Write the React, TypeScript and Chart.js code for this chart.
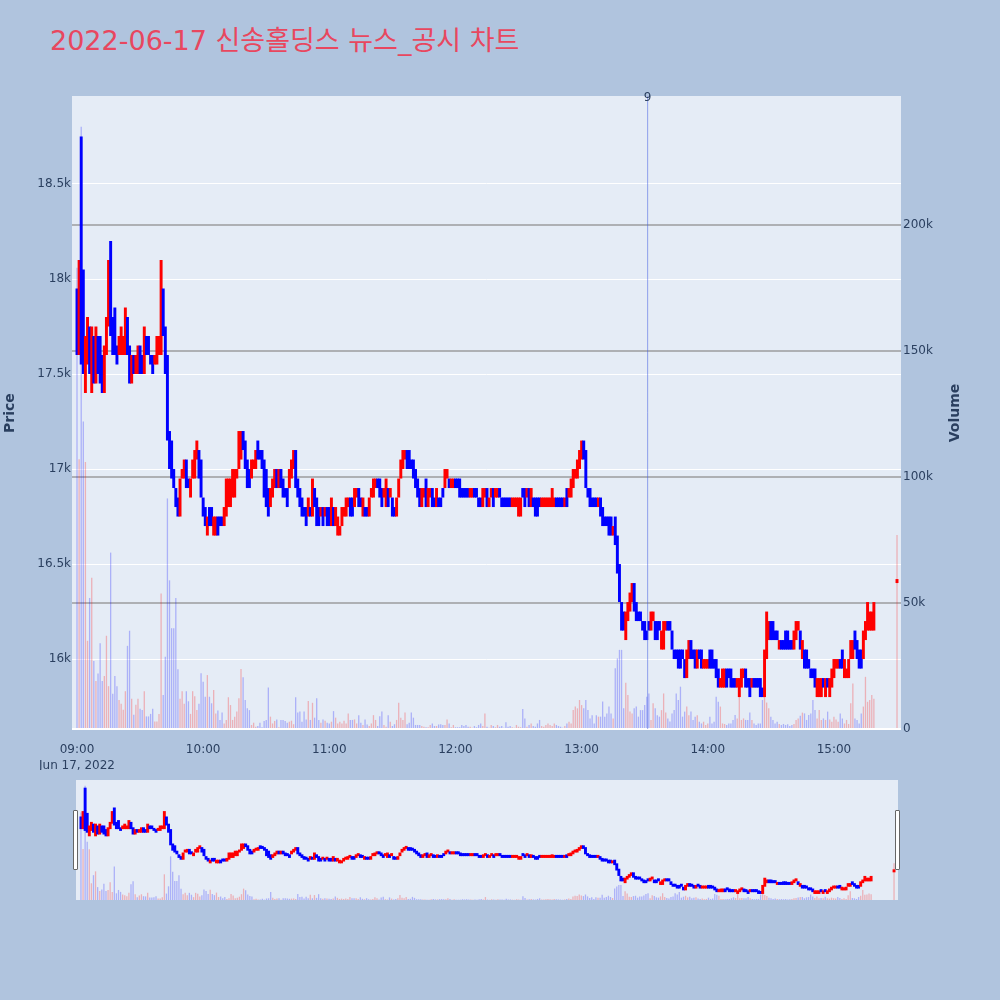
import React, { useEffect, useRef } from "react";
import { Chart, registerables } from "chart.js";

Chart.register(...registerables);

const TITLE = "2022-06-17 신송홀딩스 뉴스_공시 차트";
const SESSION_DATE_LABEL = "Jun 17, 2022";
const timeTickLabels = ["09:00", "10:00", "11:00", "12:00", "13:00", "14:00", "15:00"];
const priceTickValues = [16000, 16500, 17000, 17500, 18000, 18500];
const volumeTickValues = [0, 50000, 100000, 150000, 200000];

// one bar per minute, starting 09:00
const minuteLows = [
  17600,17600,17550,17500,17400,17550,17500,17400,17450,17450,
  17500,17450,17400,17400,17600,17750,17700,17600,17600,17550,
  17600,17600,17600,17600,17600,17450,17450,17500,17500,17500,
  17500,17500,17500,17600,17600,17550,17500,17550,17550,17600,
  17600,17700,17500,17150,17000,16950,16900,16800,16750,16750,
  16950,16950,16900,16900,16850,16950,16950,17050,16950,16850,
  16750,16700,16650,16700,16700,16650,16650,16650,16700,16700,
  16700,16750,16800,16800,16850,16850,16950,17000,17050,17100,
  17000,16900,16900,16950,17000,17000,17050,17050,17000,16850,
  16800,16750,16800,16850,16900,16900,16900,16900,16850,16850,
  16800,16900,16950,17000,16900,16850,16800,16750,16750,16700,
  16750,16750,16750,16800,16700,16700,16750,16700,16750,16700,
  16700,16700,16700,16700,16650,16650,16700,16750,16750,16800,
  16750,16750,16800,16850,16800,16800,16750,16750,16750,16750,
  16850,16850,16900,16900,16850,16800,16850,16800,16800,16850,
  16750,16750,16750,16850,16950,17000,17050,17000,17000,17000,
  16950,16900,16850,16800,16800,16850,16800,16800,16850,16800,
  16800,16800,16800,16800,16850,16900,16950,16900,16900,16900,
  16900,16900,16850,16850,16850,16850,16850,16850,16850,16850,
  16850,16800,16800,16800,16850,16800,16800,16850,16800,16850,
  16850,16850,16800,16800,16800,16800,16800,16800,16800,16800,
  16750,16750,16850,16800,16850,16800,16800,16800,16750,16750,
  16800,16800,16800,16800,16800,16800,16800,16800,16800,16800,
  16800,16800,16800,16800,16850,16850,16900,16950,16950,17000,
  17050,17050,16900,16850,16800,16800,16800,16800,16800,16750,
  16700,16700,16700,16650,16650,16650,16600,16450,16300,16150,
  16150,16100,16200,16250,16300,16250,16200,16200,16200,16150,
  16100,16100,16150,16150,16200,16100,16100,16150,16050,16050,
  16150,16150,16150,16050,16000,16000,15950,15950,16000,15900,
  15900,16000,16000,16000,15950,15950,16000,15950,15950,15950,
  15950,15950,15950,15950,15900,15850,15850,15850,15850,15850,
  15900,15850,15850,15850,15850,15800,15850,15900,15850,15850,
  15800,15850,15850,15850,15850,15800,15800,15800,16000,16100,
  16100,16100,16100,16100,16050,16050,16050,16050,16050,16050,
  16050,16050,16100,16150,16050,16000,15950,15950,15950,15900,
  15900,15850,15800,15800,15800,15850,15800,15850,15800,15850,
  15900,15950,15950,15950,15950,15900,15900,15900,16000,16000,
  16050,16000,15950,15950,16000,16100,16150,16150,16150,16150,
];

const minuteHighs = [
  17950,18100,18750,18050,17700,17800,17750,17750,17700,17750,
  17700,17700,17600,17650,17800,18100,18200,17800,17850,17650,
  17700,17750,17700,17850,17800,17650,17600,17600,17600,17650,
  17650,17600,17750,17700,17700,17600,17600,17600,17700,17700,
  18100,17950,17750,17600,17200,17150,17000,16900,16850,16950,
  17000,17050,17050,16950,16950,17050,17100,17150,17100,17050,
  16850,16800,16750,16800,16800,16750,16750,16750,16750,16750,
  16800,16950,16950,16950,17000,17000,17000,17200,17200,17200,
  17150,17050,17000,17050,17050,17100,17150,17100,17100,17050,
  17000,16900,16900,16950,17000,17000,17000,17000,16950,16900,
  16900,17000,17050,17100,17100,16950,16900,16850,16800,16800,
  16850,16800,16950,16900,16850,16800,16800,16800,16800,16800,
  16800,16850,16800,16800,16750,16700,16800,16800,16850,16850,
  16850,16850,16900,16900,16900,16850,16850,16800,16800,16850,
  16900,16950,16950,16950,16950,16900,16900,16950,16900,16900,
  16850,16800,16850,16950,17050,17100,17100,17100,17100,17050,
  17050,17000,16950,16900,16900,16900,16950,16900,16900,16900,
  16850,16900,16850,16850,16900,17000,17000,16950,16950,16950,
  16950,16950,16950,16900,16900,16900,16900,16900,16900,16900,
  16900,16850,16850,16900,16900,16900,16850,16900,16900,16900,
  16900,16900,16850,16850,16850,16850,16850,16850,16850,16850,
  16850,16850,16900,16900,16900,16900,16900,16850,16850,16850,
  16850,16850,16850,16850,16850,16850,16900,16850,16850,16850,
  16850,16850,16850,16900,16900,16950,17000,17000,17050,17100,
  17150,17150,17100,16900,16900,16850,16850,16850,16850,16850,
  16800,16750,16750,16750,16750,16700,16750,16650,16500,16300,
  16250,16250,16300,16350,16400,16400,16300,16250,16250,16200,
  16200,16150,16200,16250,16250,16200,16200,16200,16150,16200,
  16200,16200,16200,16150,16050,16050,16050,16050,16050,16000,
  16050,16100,16100,16050,16050,16050,16050,16050,16000,16000,
  16000,16050,16050,16000,16000,15950,15900,15950,15950,15950,
  15950,15950,15900,15900,15900,15900,15950,15950,15950,15900,
  15900,15900,15900,15900,15900,15900,15850,16050,16250,16200,
  16200,16200,16150,16150,16100,16100,16100,16150,16150,16100,
  16100,16150,16200,16200,16150,16100,16050,16050,16000,15950,
  15950,15950,15900,15900,15900,15900,15900,15900,15900,15950,
  16000,16000,16000,16000,16050,16000,15950,16000,16100,16100,
  16150,16100,16050,16050,16150,16200,16300,16250,16250,16300,
];

// 1 = rising (red), 0 = falling (blue)
const minuteUp = [
  0,1,0,0,1,1,0,1,0,1, 0,0,0,1,1,1,0,0,0,0, 1,1,1,1,0,0,1,0,1,1, 0,0,1,0,0,0,0,1,1,1,
  1,0,0,0,0,0,0,0,0,1, 1,1,0,0,1,1,1,1,0,0, 0,0,1,0,0,1,1,0,0,0, 1,1,1,1,1,1,1,1,1,0,
  0,0,0,1,1,1,0,0,0,0, 0,0,1,1,1,0,1,0,0,0, 0,1,1,1,0,0,0,0,0,0, 1,0,1,0,0,0,1,0,1,0,
  0,1,0,1,1,1,1,1,1,1, 0,0,1,1,0,0,1,0,0,1, 1,1,1,0,0,0,1,1,0,1, 0,0,1,1,1,1,1,0,0,0,
  0,0,0,0,1,1,0,1,1,0, 0,1,0,0,0,1,1,0,1,1, 0,0,0,0,0,0,0,1,1,0, 0,0,0,1,1,0,1,1,0,1,
  1,0,0,0,0,0,0,1,1,1, 1,1,0,0,1,0,1,0,0,0, 0,1,1,1,1,1,1,1,0,0, 0,0,1,0,1,1,1,1,1,1,
  1,0,0,0,0,0,0,0,1,0, 0,0,0,0,0,1,0,0,0,0, 0,1,1,1,1,0,0,0,0,0, 0,0,0,1,1,0,0,0,1,1,
  1,0,0,0,0,0,0,0,0,0, 1,1,0,0,0,1,0,0,1,1, 1,0,0,0,0,0,1,1,1,0, 0,0,0,0,1,1,1,1,0,0,
  0,1,0,0,0,0,0,1,1,1, 0,0,0,0,1,0,0,0,0,0, 0,1,1,1,0,1,0,0,0,0, 0,0,1,1,1,0,1,0,1,1,
  1,1,1,0,0,1,1,1,1,1, 0,0,0,0,1,1,1,1,1,1,
];

const minuteVolumes = [
  183000,107000,239000,122000,106000,35000,52000,60000,27000,19000,
  22000,34000,19000,21000,37000,17000,70000,14000,21000,17000,
  11500,10000,7600,15000,33000,39000,12000,5700,9600,12000,
  8000,7500,15000,5000,5000,6000,8000,3000,3000,6000,
  53800,13500,28700,91500,59000,40000,40000,52000,23700,12000,
  15000,10000,15000,11000,6000,15000,13000,7500,10000,22100,
  18800,12800,21400,12800,10200,15500,6200,7300,3600,6500,
  2200,3600,12600,9500,3600,4900,6900,12200,23800,20500,
  11500,8200,7500,1600,2500,900,1200,2500,700,3200,
  3600,16500,4900,2200,3200,3800,700,3600,3600,3200,
  2500,2900,3300,1900,12600,6500,6900,2900,6900,3800,
  11100,3600,10400,4500,12200,3600,2500,3800,3300,2500,
  2200,2900,7100,4500,2200,2900,2200,3300,2200,6200,
  3600,3600,3800,2200,5500,2500,1600,3800,1800,1200,
  2200,5500,3600,1200,5100,6900,1600,900,5500,2900,
  1200,1900,3600,10400,4500,3600,6500,1900,2500,6500,
  4500,1600,1600,1600,1200,900,700,700,1600,2200,
  1200,1200,1800,1900,1600,1600,3800,2200,700,1600,
  700,700,700,1600,1200,1600,900,900,500,1200,
  700,1600,2200,1200,6200,900,500,1600,1200,700,
  1600,900,1200,500,2700,900,1200,700,500,1600,
  900,700,7900,4200,900,1600,2200,1200,900,2200,
  3600,1200,900,1600,2200,1600,1200,2200,1600,1200,
  900,500,1200,2200,2900,2200,7500,8900,8200,11500,
  9500,8200,11500,7500,4200,5500,2200,5500,4900,4900,
  10900,4900,6200,8900,6200,4200,24100,28000,31400,31400,
  8200,18400,13500,6900,6200,8200,8900,4900,7500,7500,
  9500,12800,14100,3600,10200,8200,5500,4900,7500,14100,
  6500,4200,3000,6200,7500,14100,11500,16800,4900,6900,
  8900,5500,6900,3600,4900,5500,2900,2200,2900,1600,
  2200,4900,2200,2900,12800,10800,8900,2200,2000,1600,
  2200,2200,3600,5600,4200,12800,3600,4200,3600,3600,
  6500,3600,2200,1600,2200,2200,11500,12800,10500,8200,
  4900,3600,2200,2900,2000,1600,2000,1600,1900,1200,
  1600,2000,3600,4200,5300,6500,6200,3600,5600,6200,
  11500,7500,4200,7500,3600,4200,3600,6900,3800,2900,
  4900,3800,2900,6200,4200,2200,3600,2000,10200,18100,
  4200,3600,2200,6200,8900,20700,10800,11500,13500,12000,
];

const closingAuctionTime = "15:30";
const closingAuctionPrice = 16400;
const closingAuctionVolume = 77000;

const newsTimes = ["13:31:24"];
const newsLabels = ["9"];

const PRICE_MIN = 15632;
const PRICE_MAX = 18963;
const VOLUME_MAX = 251200;
const X_MIN = -2.38;
const X_MAX = 391.9;

const UP_COLOR = "#FF0000";
const DOWN_COLOR = "#0000FF";
const UP_VOL = "rgba(255,0,0,0.25)";
const DOWN_VOL = "rgba(0,0,255,0.25)";
const PLOT_BG = "#E5ECF6";
const PAPER_BG = "#B0C4DE";
const FONT = "'DejaVu Sans', verdana, arial, 'Noto Sans CJK KR', sans-serif";
const TEXT = "#2a3f5f";

function toMinutes(t: string) {
  const p = t.split(":").map(Number);
  return (p[0] - 9) * 60 + p[1] + (p[2] || 0) / 60;
}

function series() {
  const xs = minuteLows.map((_, i) => i);
  xs.push(toMinutes(closingAuctionTime));
  const lows = [...minuteLows, closingAuctionPrice];
  const highs = [...minuteHighs, closingAuctionPrice];
  const ups = [...minuteUp, 1];
  const vols = [...minuteVolumes, closingAuctionVolume];
  return { xs, lows, highs, ups, vols };
}

const plotBg = {
  id: "plotBg",
  beforeDraw(chart: any) {
    const { ctx, chartArea: a } = chart;
    ctx.save();
    ctx.fillStyle = PLOT_BG;
    ctx.fillRect(a.left, a.top, a.right - a.left, a.bottom - a.top);
    ctx.restore();
  },
};

const newsLabelPlugin = {
  id: "newsLabel",
  afterDraw(chart: any) {
    const { ctx, chartArea: a, scales } = chart;
    ctx.save();
    ctx.fillStyle = TEXT;
    ctx.font = `12px ${FONT}`;
    ctx.textAlign = "center";
    ctx.textBaseline = "alphabetic";
    newsTimes.forEach((t, i) => {
      const x = scales.x.getPixelForValue(toMinutes(t));
      ctx.fillText(newsLabels[i], x, a.top + 4.5);
    });
    ctx.restore();
  },
};

function datasets(minBar: number, withNews: boolean) {
  const s = series();
  const ds: any[] = [];
  if (withNews) {
    newsTimes.forEach((t) => {
      ds.push({
        type: "line",
        data: [
          { x: toMinutes(t), y: PRICE_MIN },
          { x: toMinutes(t), y: PRICE_MAX },
        ],
        yAxisID: "y",
        borderColor: "rgba(70,95,225,0.55)",
        borderWidth: 1,
        pointRadius: 0,
        order: 0,
      });
    });
  }
  ds.push({
    type: "bar",
    data: s.xs.map((x, i) => ({ x, y: [s.lows[i], s.highs[i]] })),
    yAxisID: "y",
    backgroundColor: s.ups.map((u) => (u ? UP_COLOR : DOWN_COLOR)),
    grouped: false,
    barPercentage: 1.4,
    categoryPercentage: 1,
    minBarLength: minBar,
    order: 1,
  });
  ds.push({
    type: "bar",
    data: s.xs.map((x, i) => ({ x, y: s.vols[i] })),
    yAxisID: "y2",
    backgroundColor: s.ups.map((u) => (u ? UP_VOL : DOWN_VOL)),
    grouped: false,
    barPercentage: 0.62,
    categoryPercentage: 1,
    order: 2,
  });
  return ds;
}

function mainConfig(): any {
  return {
    type: "bar",
    data: { datasets: datasets(4, true) },
    options: {
      animation: false,
      responsive: false,
      devicePixelRatio: 1,
      events: [],
      layout: { padding: { top: 96, left: 0, right: 0, bottom: 0 } },
      plugins: { legend: { display: false }, tooltip: { enabled: false } },
      scales: {
        x: {
          type: "linear",
          min: X_MIN,
          max: X_MAX,
          offset: false,
          grid: { display: false },
          border: { display: false },
          afterBuildTicks: (sc: any) => {
            sc.ticks = timeTickLabels.map((t) => ({ value: toMinutes(t) }));
          },
          afterFit: (sc: any) => {
            sc.height = 41;
          },
          ticks: {
            autoSkip: false,
            maxRotation: 0,
            padding: 5,
            color: TEXT,
            font: { family: FONT, size: 12, lineHeight: 1.35 },
            callback: (_v: any, i: number) =>
              i === 0 ? [timeTickLabels[0], SESSION_DATE_LABEL] : timeTickLabels[i],
          },
        },
        y: {
          type: "linear",
          position: "left",
          min: PRICE_MIN,
          max: PRICE_MAX,
          afterBuildTicks: (sc: any) => {
            sc.ticks = priceTickValues.map((v) => ({ value: v }));
          },
          afterFit: (sc: any) => {
            sc.width = 72;
          },
          grid: { color: "#FFFFFF", lineWidth: 1, drawTicks: false },
          border: { display: false },
          ticks: {
            padding: 1,
            color: TEXT,
            font: { family: FONT, size: 12 },
            callback: (v: number) => v / 1000 + "k",
          },
        },
        y2: {
          type: "linear",
          position: "right",
          min: 0,
          max: VOLUME_MAX,
          afterBuildTicks: (sc: any) => {
            sc.ticks = volumeTickValues.map((v) => ({ value: v }));
          },
          afterFit: (sc: any) => {
            sc.width = 99;
          },
          grid: {
            color: (c: any) => (c.tick && c.tick.value === 0 ? "#FFFFFF" : "#AEB0B4"),
            lineWidth: 2,
            drawTicks: false,
          },
          border: { display: false },
          ticks: {
            padding: 2,
            color: TEXT,
            font: { family: FONT, size: 12 },
            callback: (v: number) => (v === 0 ? "0" : v / 1000 + "k"),
          },
        },
      },
    },
    plugins: [plotBg, newsLabelPlugin],
  };
}

function sliderConfig(): any {
  return {
    type: "bar",
    data: { datasets: datasets(3, false) },
    options: {
      animation: false,
      responsive: false,
      devicePixelRatio: 1,
      events: [],
      layout: { padding: 0 },
      plugins: { legend: { display: false }, tooltip: { enabled: false } },
      scales: {
        x: { type: "linear", min: X_MIN, max: X_MAX, offset: false, display: false },
        y: { type: "linear", min: PRICE_MIN, max: PRICE_MAX, display: false },
        y2: { type: "linear", position: "right", min: 0, max: VOLUME_MAX, display: false },
      },
    },
    plugins: [plotBg],
  };
}

export default function App() {
  const mainRef = useRef<HTMLCanvasElement>(null);
  const sliderRef = useRef<HTMLCanvasElement>(null);
  useEffect(() => {
    const main = new Chart(mainRef.current as HTMLCanvasElement, mainConfig());
    const slider = new Chart(sliderRef.current as HTMLCanvasElement, sliderConfig());
    return () => {
      main.destroy();
      slider.destroy();
    };
  }, []);

  const axisTitle = (cx: number, cy: number): any => ({
    position: "absolute",
    left: cx - 50,
    top: cy - 10,
    width: 100,
    height: 20,
    lineHeight: "20px",
    textAlign: "center",
    transform: "rotate(-90deg)",
    fontFamily: FONT,
    fontWeight: "bold",
    fontSize: 14,
    color: TEXT,
  });

  const handle = (left: number): any => ({
    position: "absolute",
    left,
    top: 810,
    width: 3,
    height: 58,
    background: "#FFFFFF",
    border: "1px solid #666",
    borderRadius: 1,
  });

  return (
    <div
      style={{
        position: "absolute",
        left: 0,
        top: 0,
        width: 1000,
        height: 1000,
        background: PAPER_BG,
        overflow: "hidden",
      }}
    >
      <div
        style={{
          position: "absolute",
          left: 50,
          top: 26,
          fontFamily: FONT,
          fontSize: 27,
          lineHeight: "30px",
          color: "#E8475F",
          whiteSpace: "nowrap",
        }}
      >
        {TITLE}
      </div>
      <canvas
        ref={mainRef}
        width={1000}
        height={770}
        style={{ position: "absolute", left: 0, top: 0, width: 1000, height: 770 }}
      />
      <div style={axisTitle(9, 413)}>Price</div>
      <div style={axisTitle(954, 413)}>Volume</div>
      <canvas
        ref={sliderRef}
        width={822}
        height={120}
        style={{ position: "absolute", left: 76, top: 780, width: 822, height: 120 }}
      />
      <div style={handle(73)} />
      <div style={handle(895)} />
    </div>
  );
}
